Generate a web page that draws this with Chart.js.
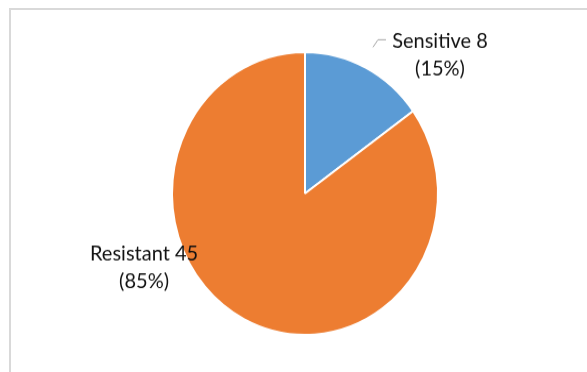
<!DOCTYPE html>
<html>
<head>
<meta charset="utf-8">
<script src="https://cdn.jsdelivr.net/npm/chart.js@4"></script>
<style>
  html, body { margin: 0; padding: 0; background: #fff; overflow: hidden; }
  #frame { position: absolute; left: 9px; top: 8px; width: 600px; height: 400px;
           border-top: 2px solid #d9d9d9; border-left: 2px solid #d9d9d9; }
  #wrap { position: absolute; left: 0; top: 0; width: 587px; height: 350px;
          transform: scaleY(1.063); transform-origin: 0 0; }
</style>
</head>
<body>
<div id="frame"></div>
<div id="wrap"><canvas id="myChart"></canvas></div>
<script>
var labels = ['Sensitive', 'Resistant'];
var counts = [8, 45];
var colors = ['#5B9BD5', '#ED7D31'];
// label centre, relative to pie centre, in units of the radius
var labelSpots = [[1.015, -1.08], [-1.21, 0.424]];

var total = counts.reduce(function (a, b) { return a + b; }, 0);

var sliceLabels = {
    id: 'sliceLabels',
    afterDatasetsDraw: function (chart) {
        var ctx = chart.ctx;
        var arcs = chart.getDatasetMeta(0).data;
        ctx.save();
        ctx.font = '20px Lato, "Open Sans", sans-serif';
        ctx.fillStyle = '#111111';
        ctx.textAlign = 'center';
        ctx.textBaseline = 'middle';
        arcs.forEach(function (arc, i) {
            var r = arc.outerRadius;
            var x = arc.x + labelSpots[i][0] * r;
            var y = arc.y + labelSpots[i][1] * r;
            var pct = Math.round(counts[i] / total * 100);
            ctx.fillText(labels[i] + ' ' + counts[i], x, y);
            ctx.fillText('(' + pct + '%)', x, y + 26);
        });
        // leader line for the small slice
        var a = arcs[0];
        var sx = a.x + labelSpots[0][0] * a.outerRadius;
        var sy = a.y + labelSpots[0][1] * a.outerRadius;
        ctx.strokeStyle = '#a6a6a6';
        ctx.lineWidth = 1;
        ctx.beginPath();
        ctx.moveTo(sx - 67, sy + 6);
        ctx.lineTo(sx - 62, sy - 1);
        ctx.lineTo(sx - 54, sy - 1);
        ctx.stroke();
        ctx.restore();
    }
};

var ctx = document.getElementById('myChart').getContext('2d');
var myChart = new Chart(ctx, {
    type: 'pie',
    data: {
        labels: labels,
        datasets: [{
            data: counts,
            backgroundColor: colors,
            borderColor: '#ffffff',
            borderWidth: 2
        }]
    },
    options: {
        responsive: true,
        maintainAspectRatio: false,
        animation: false,
        layout: { padding: { top: 48, bottom: 34, left: 98, right: 75 } },
        plugins: {
            legend: { display: false },
            tooltip: { enabled: false }
        }
    },
    plugins: [sliceLabels]
});
</script>
</body>
</html>
